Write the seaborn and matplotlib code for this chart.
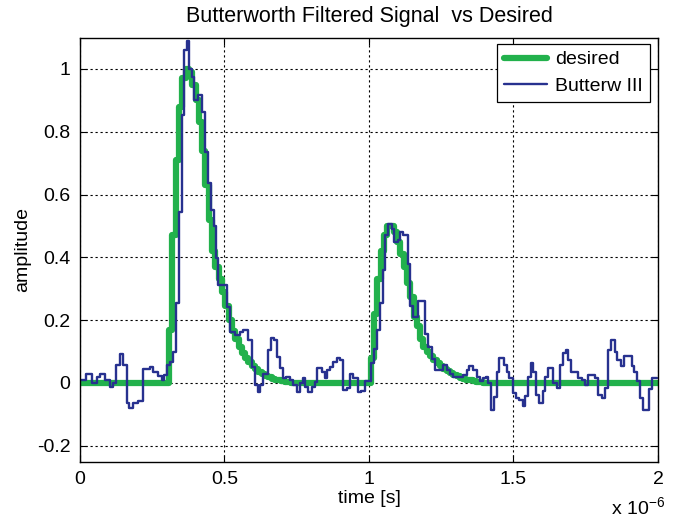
import numpy as np
import pandas as pd
import matplotlib
matplotlib.use("Agg")
import matplotlib.pyplot as plt
import seaborn as sns

# ---- data (time in microseconds) ----
n_samples = 175
t_end = 2.0

# desired pulses: first sample index on the 2/175 us grid and sample values
pulse1_start = 27
pulse1 = [0.17, 0.47, 0.71, 0.88, 0.97, 1.00, 0.99, 0.95, 0.90, 0.83,
          0.74, 0.63, 0.52, 0.42, 0.37, 0.33, 0.29, 0.245, 0.20, 0.165,
          0.14, 0.115, 0.097, 0.08, 0.066, 0.054, 0.044, 0.036, 0.029, 0.023,
          0.018, 0.014, 0.011, 0.008, 0.006, 0.004, 0.002]
pulse2_start = 88
pulse2 = [0.08, 0.22, 0.33, 0.42, 0.47, 0.50, 0.50, 0.48, 0.45, 0.41,
          0.37, 0.32, 0.275, 0.21, 0.18, 0.14, 0.115, 0.10, 0.085, 0.074,
          0.063, 0.053, 0.045, 0.038, 0.032, 0.026, 0.021, 0.017, 0.013, 0.010,
          0.008, 0.006, 0.004, 0.002]

# Butterworth output: step start times (us) and held levels
butter_t = [0.000, 0.021, 0.040, 0.058, 0.069, 0.087, 0.104, 0.115, 0.125, 0.138,
            0.150, 0.161, 0.171, 0.185, 0.202, 0.219, 0.242, 0.254, 0.271, 0.283,
            0.291, 0.300, 0.311, 0.321, 0.331, 0.342, 0.352, 0.361, 0.369, 0.378,
            0.386, 0.396, 0.410, 0.421, 0.433, 0.443, 0.453, 0.462, 0.469, 0.479,
            0.509, 0.519, 0.536, 0.554, 0.565, 0.582, 0.594, 0.606, 0.617, 0.623,
            0.634, 0.652, 0.660, 0.671, 0.683, 0.692, 0.703, 0.713, 0.727, 0.738,
            0.752, 0.761, 0.771, 0.780, 0.790, 0.802, 0.813, 0.819, 0.836, 0.848,
            0.853, 0.865, 0.876, 0.888, 0.900, 0.911, 0.923, 0.934, 0.946, 0.963,
            0.974, 0.986, 1.006, 1.017, 1.029, 1.038, 1.047, 1.055, 1.067, 1.078,
            1.088, 1.099, 1.107, 1.119, 1.136, 1.142, 1.153, 1.171, 1.194, 1.205,
            1.217, 1.228, 1.257, 1.269, 1.280, 1.292, 1.326, 1.338, 1.347, 1.361,
            1.373, 1.385, 1.396, 1.405, 1.413, 1.421, 1.433, 1.442, 1.451, 1.467,
            1.476, 1.486, 1.497, 1.509, 1.520, 1.532, 1.540, 1.551, 1.560, 1.569,
            1.578, 1.589, 1.601, 1.609, 1.620, 1.638, 1.649, 1.661, 1.672, 1.682,
            1.690, 1.698, 1.724, 1.736, 1.747, 1.759, 1.782, 1.793, 1.805, 1.817,
            1.828, 1.839, 1.851, 1.859, 1.871, 1.882, 1.909, 1.917, 1.926, 1.938,
            1.949, 1.969, 1.981, 1.995]
butter_v = [0.010, 0.029, 0.000, 0.020, 0.030, 0.010, -0.012, 0.000, 0.057, 0.092,
            0.057, -0.064, -0.080, -0.064, -0.058, 0.045, 0.052, 0.036, 0.022, 0.010,
            0.025, 0.057, 0.068, 0.100, 0.255, 0.545, 0.853, 1.060, 1.090, 1.000,
            0.975, 0.900, 0.917, 0.864, 0.737, 0.637, 0.550, 0.500, 0.397, 0.312,
            0.243, 0.163, 0.153, 0.163, 0.169, 0.137, 0.052, -0.006, -0.028, -0.006,
            0.030, 0.105, 0.142, 0.138, 0.084, 0.047, 0.016, 0.020, 0.010, -0.006,
            -0.028, 0.000, 0.017, -0.012, -0.030, -0.012, 0.004, 0.047, 0.036, 0.017,
            0.041, 0.052, 0.068, 0.079, 0.072, -0.022, -0.016, 0.030, 0.015, -0.030,
            -0.025, 0.005, 0.065, 0.107, 0.170, 0.255, 0.360, 0.470, 0.505, 0.490,
            0.450, 0.455, 0.480, 0.470, 0.380, 0.245, 0.210, 0.260, 0.155, 0.115,
            0.075, 0.042, 0.058, 0.040, 0.030, 0.020, 0.026, 0.042, 0.053, 0.040,
            0.020, 0.005, 0.015, 0.020, 0.000, -0.085, -0.045, 0.036, 0.079, 0.057,
            0.036, 0.016, -0.033, -0.048, -0.053, -0.074, -0.040, 0.020, 0.063, 0.036,
            -0.037, -0.063, -0.027, 0.020, 0.047, 0.000, -0.016, 0.058, 0.095, 0.105,
            0.074, 0.036, 0.016, 0.010, -0.005, 0.026, 0.016, -0.037, -0.048, -0.016,
            0.105, 0.137, 0.100, 0.074, 0.053, 0.085, 0.053, 0.036, 0.005, -0.048,
            -0.085, -0.020, 0.016, 0.016]

x_ticks = [0, 0.5, 1, 1.5, 2]
x_tick_labels = ["0", "0.5", "1", "1.5", "2"]
y_ticks = [-0.2, 0, 0.2, 0.4, 0.6, 0.8, 1]
y_tick_labels = ["-0.2", "0", "0.2", "0.4", "0.6", "0.8", "1"]

# ---- build tables ----
desired = np.zeros(n_samples + 1)
desired[pulse1_start:pulse1_start + len(pulse1)] = pulse1
desired[pulse2_start:pulse2_start + len(pulse2)] = pulse2
t_grid = np.linspace(0, t_end, n_samples + 1)
df_desired = pd.DataFrame({"time": t_grid, "amplitude": desired})
df_butter = pd.DataFrame({"time": butter_t, "amplitude": butter_v})

# ---- style ----
sns.set_style("ticks")
plt.rcParams["font.family"] = ["Liberation Sans", "DejaVu Sans"]
plt.rcParams["mathtext.default"] = "regular"
plt.rcParams["text.color"] = "black"
plt.rcParams["axes.labelcolor"] = "black"
fs = 14

green = "#22b14c"
blue = "#27318f"

fig = plt.figure(figsize=(6.75, 5.2), dpi=100)
ax = fig.add_axes([0.1185, 0.1125, 0.8563, 0.8152])

sns.lineplot(data=df_desired, x="time", y="amplitude", drawstyle="steps-post",
             estimator=None, sort=False, color=green, linewidth=4.5,
             label="desired", ax=ax)
sns.lineplot(data=df_butter, x="time", y="amplitude", drawstyle="steps-post",
             estimator=None, sort=False, color=blue, linewidth=1.7,
             label="Butterw III", ax=ax)

ax.set_xlim(0, 2)
ax.set_ylim(-0.25, 1.1)
ax.set_xticks(x_ticks)
ax.set_xticklabels(x_tick_labels)
ax.set_yticks(y_ticks)
ax.set_yticklabels(y_tick_labels)
ax.tick_params(direction="in", length=5, width=0.8, labelsize=fs,
               top=True, right=True, colors="black", pad=7)
ax.grid(True, color="black", linestyle=(0, (2, 2.5)), linewidth=0.8)
for s in ax.spines.values():
    s.set_color("black")
    s.set_linewidth(1.0)

ax.set_xlabel("time [s]", fontsize=fs, labelpad=1, color="black")
ax.set_ylabel("amplitude", fontsize=fs, labelpad=4, color="black")
ax.set_title("Butterworth Filtered Signal  vs Desired", fontsize=15.5,
             pad=11, color="black")

leg = ax.legend(loc="upper right", bbox_to_anchor=(0.986, 0.985),
                borderaxespad=0, fontsize=fs, frameon=True, fancybox=False,
                edgecolor="black", framealpha=1, handlelength=2.2,
                handletextpad=0.45, borderpad=0.35, labelspacing=0.45)
leg.get_frame().set_linewidth(0.9)
for txt in leg.get_texts():
    txt.set_color("black")

fig.text(0.985, 0.012, r"x 10$^{-6}$", fontsize=fs, ha="right",
         va="baseline", color="black")

fig.savefig("out.png", dpi=100)
